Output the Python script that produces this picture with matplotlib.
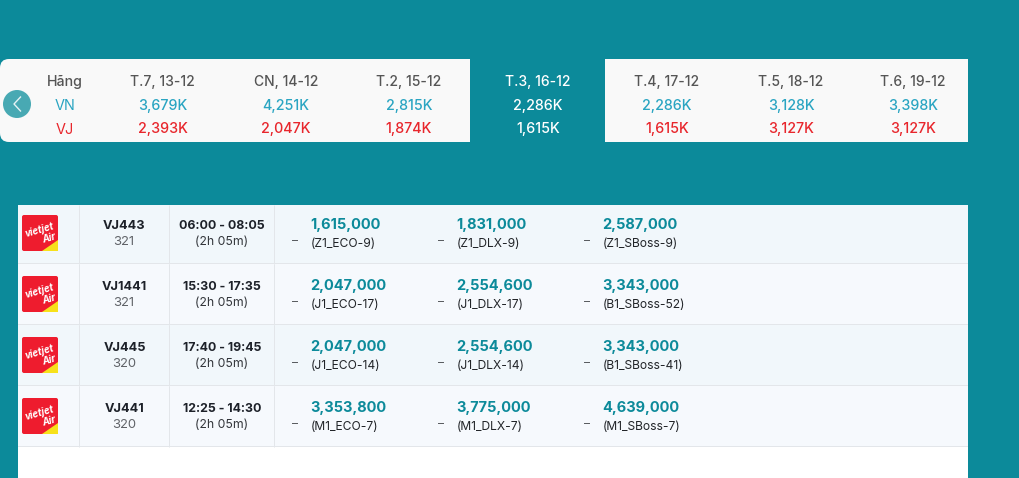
import matplotlib
matplotlib.use("Agg")
import matplotlib.pyplot as plt
from matplotlib.patches import Rectangle, FancyBboxPatch, Circle, Polygon

plt.rcParams['font.family'] = ['Inter', 'DejaVu Sans']

# ---- data ----
day_labels = ["T.7, 13-12", "CN, 14-12", "T.2, 15-12", "T.3, 16-12", "T.4, 17-12", "T.5, 18-12", "T.6, 19-12"]
vn_prices = ["3,679K", "4,251K", "2,815K", "2,286K", "2,286K", "3,128K", "3,398K"]
vj_prices = ["2,393K", "2,047K", "1,874K", "1,615K", "1,615K", "3,127K", "3,127K"]
flight_codes = ["VJ443", "VJ1441", "VJ445", "VJ441"]
aircraft = ["321", "321", "320", "320"]
times = ["06:00 - 08:05", "15:30 - 17:35", "17:40 - 19:45", "12:25 - 14:30"]
durations = ["(2h 05m)"] * 4
eco_prices = ["1,615,000", "2,047,000", "2,047,000", "3,353,800"]
eco_fares = ["(Z1_ECO-9)", "(J1_ECO-17)", "(J1_ECO-14)", "(M1_ECO-7)"]
dlx_prices = ["1,831,000", "2,554,600", "2,554,600", "3,775,000"]
dlx_fares = ["(Z1_DLX-9)", "(J1_DLX-17)", "(J1_DLX-14)", "(M1_DLX-7)"]
boss_prices = ["2,587,000", "3,343,000", "3,343,000", "4,639,000"]
boss_fares = ["(Z1_SBoss-9)", "(B1_SBoss-52)", "(B1_SBoss-41)", "(M1_SBoss-7)"]

TEAL = "#0c8a9a"
fig = plt.figure(figsize=(10.19, 4.78), dpi=100, facecolor=TEAL)
ax = fig.add_axes([0, 0, 1, 1])
ax.set_xlim(0, 1019)
ax.set_ylim(478, 0)
ax.axis("off")

# top strip: only the left corners are rounded
ax.add_patch(FancyBboxPatch((0, 59), 40, 83, boxstyle="round,pad=0,rounding_size=9",
                            fc="#f9f9f9", ec="none", zorder=1))
ax.add_patch(Rectangle((12, 59), 458, 83, fc="#f9f9f9", ec="none", zorder=1))
ax.add_patch(Rectangle((605, 59), 363, 83, fc="#f9f9f9", ec="none", zorder=1))

col_x = [162.5, 286, 409, 538, 667, 791, 913]
for i, x in enumerate(col_x):
    sel = i == 3
    ax.text(x, 81.5, day_labels[i], ha="center", va="center", fontsize=10, fontweight="medium",
            color="white" if sel else "#555555", zorder=3)
    ax.text(x, 105.5, vn_prices[i], ha="center", va="center", fontsize=10.3,
            fontweight="medium", color="white" if sel else "#2aa5c2", zorder=3)
    ax.text(x, 129.5, vj_prices[i], ha="center", va="center", fontsize=10.3,
            fontweight="medium", color="white" if sel else "#e8262c", zorder=3)
ax.text(65, 81.5, "Hãng", ha="center", va="center", fontsize=10.2, fontweight="medium", color="#555555", zorder=3)
ax.text(65, 105.5, "VN", ha="center", va="center", fontsize=10.4, color="#2aa5c2", zorder=3)
ax.text(65, 129.5, "VJ", ha="center", va="center", fontsize=10.4, color="#e8262c", zorder=3)

ax.add_patch(Circle((17, 104), 14, fc="#48a9b3", ec="none", zorder=3))
ax.plot([20.5, 14, 20.5], [97, 104, 111], color="#e6f3f5", lw=1.0, zorder=4)

# table
ax.add_patch(Rectangle((18, 205), 950, 273, fc="white", ec="none", zorder=1))
row_top = [205, 264, 325, 386]
row_bot = [264, 325, 386, 447]
row_mid = [233, 294, 355, 416]
row_bg = ["#f1f7fb", "#f6f9fd", "#f1f7fb", "#f6f9fd"]
fare_x = [311, 457, 603]
LINE = "#e3e6ea"

for r in range(4):
    t, b, c = row_top[r], row_bot[r], row_mid[r]
    ax.add_patch(Rectangle((18, t), 950, b - t, fc=row_bg[r], ec="none", zorder=1))
    for vx in (79.5, 169.5, 274.5):
        ax.plot([vx, vx], [t, b], color=LINE, lw=0.72, zorder=2, solid_capstyle="butt")
    ax.plot([18, 968], [b - 0.5, b - 0.5], color=LINE, lw=0.72, zorder=2, solid_capstyle="butt", snap=False)
    # logo
    lx, ly = 22, c - 18
    ax.add_patch(FancyBboxPatch((lx, ly), 36, 36, boxstyle="round,pad=0,rounding_size=2",
                                fc="#ee1c2e", ec="none", zorder=3))
    ax.add_patch(Polygon([(lx + 36, ly + 25), (lx + 36, ly + 36), (lx + 20, ly + 36)],
                         fc="#f7e11b", ec="none", zorder=4))
    ax.text(lx + 17, ly + 15, "vietjet", ha="center", va="center", fontsize=7, fontweight="bold",
            style="italic", color="white", rotation=16, zorder=5)
    ax.text(lx + 27, ly + 23, "Air", ha="center", va="center", fontsize=7, fontweight="bold",
            style="italic", color="white", rotation=16, zorder=5)
    # flight info
    ax.text(124.5, c - 7, flight_codes[r], ha="center", va="center", fontsize=9.2, fontweight="bold", color="#1d2129", zorder=3)
    ax.text(124, c + 9, aircraft[r], ha="center", va="center", fontsize=9.4, color="#606368", zorder=3)
    ax.text(222, c - 7, times[r], ha="center", va="center", fontsize=8.9, fontweight="bold", color="#1d2129", zorder=3)
    ax.text(222, c + 9, durations[r], ha="center", va="center", fontsize=8.8, color="#33363b", zorder=3)
    # fares
    for fx, prices, fares in zip(fare_x, (eco_prices, dlx_prices, boss_prices), (eco_fares, dlx_fares, boss_fares)):
        ax.text(fx - 0.5, c - 8, prices[r], ha="left", va="center", fontsize=10.5, fontweight="bold", color=TEAL, zorder=3)
        ax.text(fx, c + 11, fares[r], ha="left", va="center", fontsize=8.7, color="#222529", zorder=3)
        ax.plot([fx - 19, fx - 14], [c + 7, c + 7], color="#55585c", lw=0.7, zorder=3)

fig.savefig("out.png", dpi=100, facecolor=TEAL)
